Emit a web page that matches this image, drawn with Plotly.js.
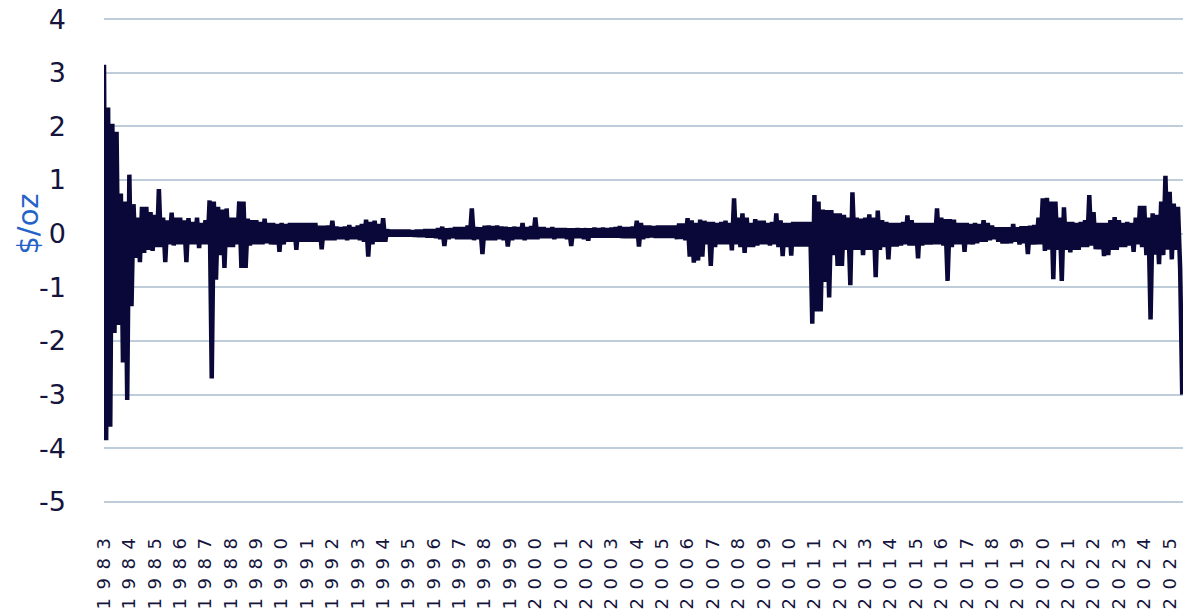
<!DOCTYPE html>
<html>
<head>
<meta charset="utf-8">
<script src="https://cdn.plot.ly/plotly-3.0.1.min.js"></script>
<style>
  html, body { margin:0; padding:0; background:#fff; }
  #chart { width:1200px; height:613px; }
  .xtick text { letter-spacing: 8.5px; }
</style>
</head>
<body>
<div id="chart"></div>
<script>
// Monthly readings (alternating upper / lower envelope of the daily change), $/oz
const chg1983_1989 = [
  3.15, -3.85, 2.35, -3.6, 2.05, -1.85, 1.9, -1.7, 0.75, -2.4, 0.6, -3.1,
  1.1, -1.35, 0.55, -0.45, 0.3, -0.53, 0.5, -0.36, 0.5, -0.3, 0.4, -0.32,
  0.35, -0.25, 0.83, -0.25, 0.3, -0.53, 0.25, -0.2, 0.39, -0.22, 0.3, -0.2,
  0.3, -0.2, 0.25, -0.53, 0.29, -0.2, 0.22, -0.2, 0.3, -0.27, 0.2, -0.2,
  0.25, -0.2, 0.62, -2.7, 0.6, -0.86, 0.5, -0.4, 0.45, -0.64, 0.47, -0.25,
  0.3, -0.25, 0.3, -0.2, 0.6, -0.64, 0.6, -0.64, 0.28, -0.22, 0.25, -0.2,
  0.25, -0.2, 0.22, -0.2, 0.28, -0.18, 0.2, -0.2, 0.2, -0.2, 0.18, -0.34
];
const chg1990_1999 = [
  0.2, -0.2, 0.18, -0.15, 0.2, -0.15, 0.2, -0.3, 0.2, -0.15, 0.2, -0.15,
  0.2, -0.15, 0.2, -0.15, 0.2, -0.15, 0.15, -0.29, 0.15, -0.12, 0.15, -0.12,
  0.24, -0.12, 0.13, -0.1, 0.12, -0.1, 0.13, -0.12, 0.16, -0.1, 0.12, -0.1,
  0.15, -0.12, 0.18, -0.15, 0.26, -0.43, 0.22, -0.2, 0.24, -0.15, 0.18, -0.15,
  0.29, -0.15, 0.08, -0.05, 0.07, -0.05, 0.07, -0.05, 0.07, -0.05, 0.07, -0.05,
  0.07, -0.05, 0.06, -0.05, 0.07, -0.06, 0.07, -0.06, 0.08, -0.07, 0.08, -0.07,
  0.08, -0.08, 0.1, -0.1, 0.13, -0.23, 0.1, -0.1, 0.1, -0.08, 0.12, -0.1,
  0.12, -0.1, 0.12, -0.1, 0.15, -0.1, 0.47, -0.12, 0.12, -0.1, 0.12, -0.38,
  0.15, -0.12, 0.15, -0.12, 0.14, -0.12, 0.15, -0.1, 0.13, -0.12, 0.13, -0.24,
  0.12, -0.12, 0.13, -0.1, 0.12, -0.1, 0.2, -0.12, 0.12, -0.1, 0.14, -0.1
];
const chg2000_2009 = [
  0.3, -0.1, 0.12, -0.08, 0.12, -0.08, 0.1, -0.08, 0.12, -0.1, 0.1, -0.08,
  0.1, -0.08, 0.1, -0.1, 0.1, -0.23, 0.1, -0.08, 0.1, -0.08, 0.1, -0.1,
  0.1, -0.13, 0.1, -0.07, 0.11, -0.07, 0.1, -0.07, 0.11, -0.07, 0.1, -0.07,
  0.11, -0.07, 0.12, -0.07, 0.14, -0.08, 0.12, -0.08, 0.12, -0.08, 0.13, -0.08,
  0.24, -0.24, 0.2, -0.1, 0.15, -0.08, 0.15, -0.07, 0.14, -0.08, 0.15, -0.08,
  0.15, -0.08, 0.15, -0.08, 0.15, -0.08, 0.15, -0.1, 0.19, -0.1, 0.19, -0.12,
  0.29, -0.43, 0.25, -0.54, 0.2, -0.5, 0.26, -0.43, 0.24, -0.2, 0.22, -0.6,
  0.22, -0.25, 0.2, -0.2, 0.22, -0.2, 0.24, -0.2, 0.2, -0.31, 0.66, -0.2,
  0.3, -0.25, 0.38, -0.36, 0.3, -0.25, 0.2, -0.25, 0.27, -0.22, 0.24, -0.2,
  0.24, -0.2, 0.2, -0.22, 0.22, -0.2, 0.38, -0.25, 0.25, -0.42, 0.2, -0.25
];
const chg2010_2019 = [
  0.2, -0.41, 0.22, -0.24, 0.22, -0.24, 0.22, -0.24, 0.22, -0.24, 0.22, -1.68,
  0.72, -1.45, 0.6, -1.45, 0.45, -0.9, 0.44, -1.19, 0.44, -0.4, 0.38, -0.6,
  0.38, -0.6, 0.35, -0.3, 0.3, -0.96, 0.77, -0.3, 0.3, -0.3, 0.28, -0.4,
  0.3, -0.3, 0.36, -0.3, 0.3, -0.81, 0.43, -0.3, 0.25, -0.25, 0.22, -0.48,
  0.2, -0.24, 0.2, -0.24, 0.2, -0.22, 0.22, -0.2, 0.34, -0.22, 0.25, -0.22,
  0.2, -0.46, 0.2, -0.22, 0.2, -0.2, 0.2, -0.2, 0.2, -0.2, 0.47, -0.2,
  0.3, -0.22, 0.27, -0.88, 0.27, -0.25, 0.26, -0.2, 0.2, -0.2, 0.2, -0.34,
  0.2, -0.2, 0.18, -0.2, 0.2, -0.18, 0.18, -0.15, 0.25, -0.15, 0.2, -0.12,
  0.15, -0.1, 0.12, -0.15, 0.12, -0.18, 0.12, -0.18, 0.12, -0.18, 0.18, -0.15,
  0.12, -0.2, 0.14, -0.18, 0.14, -0.38, 0.15, -0.2, 0.16, -0.2, 0.3, -0.2
];
const chg2020_2025 = [
  0.66, -0.32, 0.67, -0.3, 0.6, -0.85, 0.6, -0.3, 0.3, -0.88, 0.49, -0.3,
  0.22, -0.35, 0.22, -0.3, 0.2, -0.3, 0.22, -0.25, 0.25, -0.25, 0.72, -0.22,
  0.4, -0.29, 0.2, -0.29, 0.2, -0.42, 0.2, -0.4, 0.25, -0.3, 0.31, -0.3,
  0.25, -0.25, 0.2, -0.25, 0.22, -0.22, 0.2, -0.34, 0.3, -0.2, 0.52, -0.25,
  0.52, -0.4, 0.3, -1.6, 0.38, -0.39, 0.35, -0.57, 0.6, -0.4, 1.08, -0.3,
  0.78, -0.48, 0.56, -0.3, 0.5, -0.65, -3.0
];
const yTickValues = [-5, -4, -3, -2, -1, 0, 1, 2, 3, 4];
const yTickLabels = ['-5', '-4', '-3', '-2', '-1', '0', '1', '2', '3', '4'];
const yAxisTitle = '$/oz';

const values = [].concat(chg1983_1989, chg1990_1999, chg2000_2009, chg2010_2019, chg2020_2025);
const dates = values.map(function (v, i) {
  const y = 1983 + Math.floor(i / 12);
  const m = (i % 12) + 1;
  return y + '-' + (m < 10 ? '0' + m : m) + '-01';
});

const trace = {
  type: 'scatter',
  mode: 'lines',
  x: dates,
  y: values,
  line: { color: '#0a0838', width: 4.5, simplify: false },
  hoverinfo: 'x+y'
};

const layout = {
  width: 1200,
  height: 613,
  margin: { l: 104, r: 17, t: 18, b: 110, pad: 0, autoexpand: false },
  paper_bgcolor: '#ffffff',
  plot_bgcolor: '#ffffff',
  showlegend: false,
  xaxis: {
    type: 'date',
    range: ['1983-01-01', '2025-07-12'],
    tickmode: 'linear',
    tick0: '1983-01-01',
    dtick: 'M12',
    tickformat: '%Y',
    tickangle: -90,
    showgrid: false,
    zeroline: false,
    showline: false,
    automargin: false,
    ticks: '',
    ticklabelstandoff: 22,
    tickfont: { family: 'DejaVu Sans', size: 18, color: '#14143c' }
  },
  yaxis: {
    range: [-5.02, 4.02],
    tickmode: 'array',
    tickvals: yTickValues,
    ticktext: yTickLabels,
    showgrid: true,
    gridcolor: '#bfcdda',
    gridwidth: 2,
    zeroline: false,
    showline: false,
    automargin: false,
    ticks: '',
    ticklabelstandoff: 37,
    tickfont: { family: 'DejaVu Sans', size: 27, color: '#14143c' }
  },
  annotations: [{
    xref: 'paper', yref: 'paper',
    x: -0.07, y: 0.575,
    xanchor: 'center', yanchor: 'middle',
    text: yAxisTitle,
    textangle: -90,
    showarrow: false,
    font: { family: 'DejaVu Sans', size: 29, color: '#2563c9' }
  }]
};

Plotly.newPlot('chart', [trace], layout, { displayModeBar: false, staticPlot: true });
</script>
</body>
</html>
